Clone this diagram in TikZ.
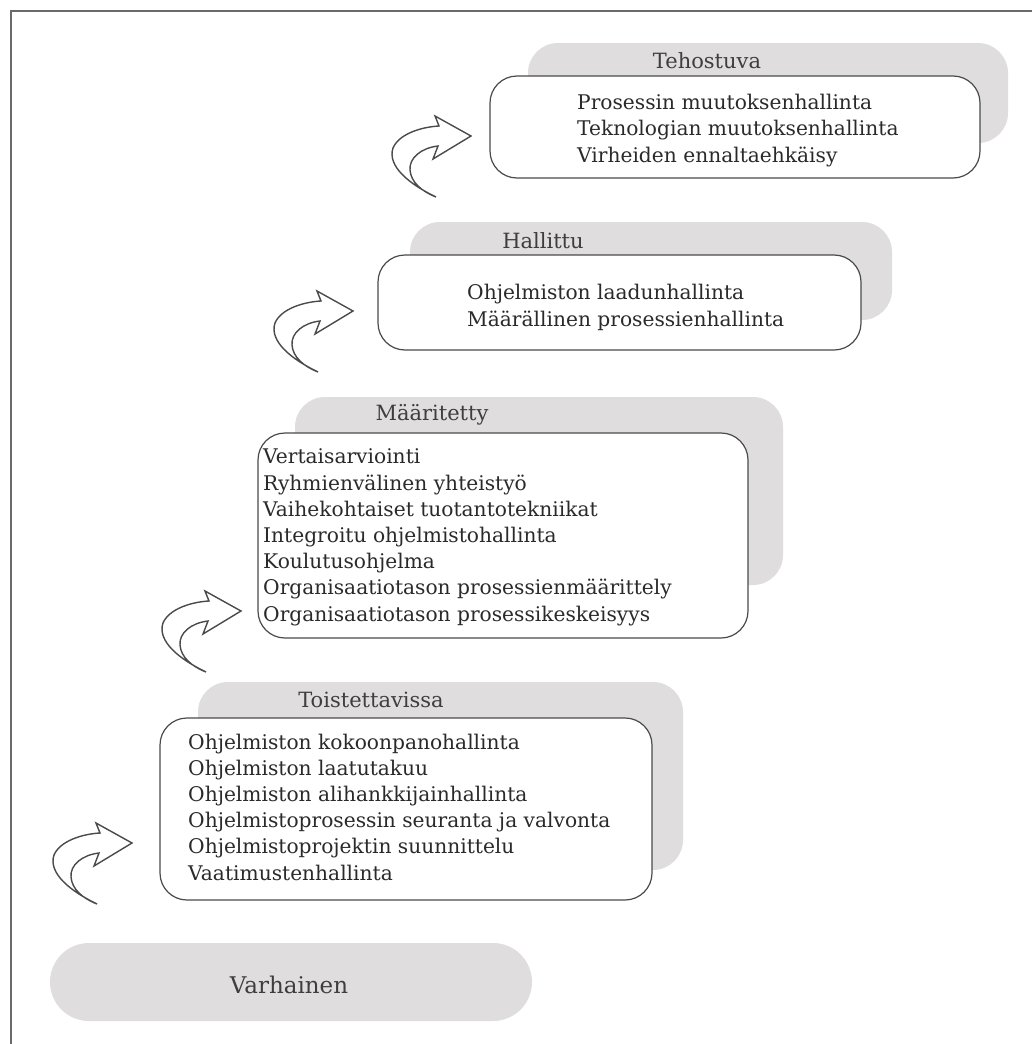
\documentclass[tikz,border=0pt]{standalone}
\usepackage{fontspec}
\setmainfont{DejaVu Serif}
\definecolor{tabgray}{HTML}{E0DDDF}
\definecolor{edgegray}{HTML}{4A4A4A}
\definecolor{inkgray}{HTML}{2A2A2A}
\definecolor{titlegray}{HTML}{3E3E3E}
\definecolor{framegray}{HTML}{6A6A6A}
\tikzset{
  tab/.style={fill=tabgray, draw=none, rounded corners=30pt, inner sep=0pt},
  whitebox/.style={fill=white, draw=edgegray, line width=1.2pt, rounded corners=27pt, inner sep=0pt},
  levelname/.style={font=\fontsize{21}{24}\selectfont, text=titlegray, inner sep=0pt, anchor=base},
  % the base anchor of a multi-line node sits on its last line
  items/.style={font=\fontsize{20.2}{26.2}\selectfont, text=inkgray, align=left, inner sep=0pt, anchor=base west},
  curvarrow/.pic={
    \draw[edgegray, line width=1.4pt, fill=white, line join=miter]
      (-35,61) .. controls (-62,48) and (-84,30) .. (-78,12)
      .. controls (-72,-2) and (-50,-9) .. (-32,-10)
      -- (-36,-20) -- (0,0) -- (-38,23) -- (-33,10)
      .. controls (-50,12) and (-62,22) .. (-61,34)
      .. controls (-60,46) and (-50,55) .. cycle;
  }
}
\begin{document}
\begin{tikzpicture}[x=1pt,y=-1pt]
\useasboundingbox (0,0) rectangle (1032,1044);
\fill[white] (0,0) rectangle (1032,1044);
% page frame
\draw[framegray, line width=2.5pt] (11,1044) -- (11,11) -- (1032,11);

% level 1
\node[tab, minimum width=482pt, minimum height=78pt, rounded corners=39pt] (l1) at (291,982) {};
\node[levelname, font=\fontsize{23}{26}\selectfont] (l1t) at (289,993) {Varhainen};

% level 2
\node[tab, minimum width=485pt, minimum height=188pt] (g2) at (440.5,776) {};
\node[whitebox, minimum width=492pt, minimum height=182pt] (b2) at (406,809) {};
\node[levelname] (t2) at (371,707) {Toistettavissa};
\node[items] (i2) at (188,880) {Ohjelmiston kokoonpanohallinta\\Ohjelmiston laatutakuu\\Ohjelmiston alihankkijainhallinta\\Ohjelmistoprosessin seuranta ja valvonta\\Ohjelmistoprojektin suunnittelu\\Vaatimustenhallinta};

% level 3
\node[tab, minimum width=488pt, minimum height=188pt] (g3) at (539,491) {};
\node[whitebox, minimum width=490pt, minimum height=205pt] (b3) at (503,535.5) {};
\node[levelname] (t3) at (432,420) {Määritetty};
\node[items] (i3) at (263,621) {Vertaisarviointi\\Ryhmienvälinen yhteistyö\\Vaihekohtaiset tuotantotekniikat\\Integroitu ohjelmistohallinta\\Koulutusohjelma\\Organisaatiotason prosessienmäärittely\\Organisaatiotason prosessikeskeisyys};

% level 4
\node[tab, minimum width=482pt, minimum height=98pt] (g4) at (651,271) {};
\node[whitebox, minimum width=483pt, minimum height=95pt] (b4) at (619.5,302.5) {};
\node[levelname] (t4) at (543,248) {Hallittu};
\node[items] (i4) at (467,326) {Ohjelmiston laadunhallinta\\Määrällinen prosessienhallinta};

% level 5
\node[tab, minimum width=480pt, minimum height=100pt] (g5) at (768,93) {};
\node[whitebox, minimum width=490pt, minimum height=102pt] (b5) at (735,127) {};
\node[levelname] (t5) at (707,68) {Tehostuva};
\node[items] (i5) at (577,162) {Prosessin muutoksenhallinta\\Teknologian muutoksenhallinta\\Virheiden ennaltaehkäisy};

% curved step arrows
\pic (a1) at (132,843) {curvarrow};
\pic (a2) at (241,611) {curvarrow};
\pic (a3) at (353,311) {curvarrow};
\pic (a4) at (471,136) {curvarrow};
\end{tikzpicture}
\end{document}
